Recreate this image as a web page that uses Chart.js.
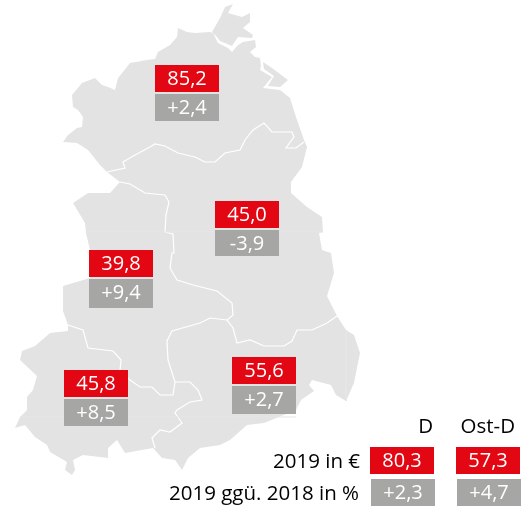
<!DOCTYPE html>
<html>
<head>
<meta charset="utf-8">
<script src="https://cdn.jsdelivr.net/npm/chart.js@4/dist/chart.umd.min.js"></script>
<style>
  html, body { margin: 0; padding: 0; background: #fff; }
  canvas { display: block; }
</style>
</head>
<body>
<canvas id="mapChart" width="528" height="506"></canvas>
<script>
// values
const regions = ['Mecklenburg-Vorpommern', 'Brandenburg', 'Sachsen-Anhalt', 'Thüringen', 'Sachsen'];
const values2019 = [85.2, 45.0, 39.8, 45.8, 55.6];
const changes = [2.4, -3.9, 9.4, 8.5, 2.7];
const legendNames = ['D', 'Ost-D'];
const legendValues = [80.3, 57.3];
const legendChanges = [2.3, 4.7];
const rowLabels = ['2019 in €', '2019 ggü. 2018 in %'];

// top left corner of each label pair, in map units
const regionBoxX = [155, 215, 89, 64, 232];
const regionBoxY = [65, 201, 250, 370, 357];
const regionGreyH = [27, 26, 29, 27, 28];
const legendBoxX = [370, 456];

// map geometry, same units as the canvas
const landOutline = [
    [63,142],[68,135],[77,128],[82,127],[83,117],[78,110],[73,107],[72,95],[82,83],[95,78],[102,85],[108,87],[115,90],
    [118,78],[123,72],[130,63],[147,60],[155,59],[158,52],[170,45],[177,37],[178,28],[187,32],[195,33],[210,32],
    [213,33],[218,43],[228,48],[232,52],[238,45],[243,42],[255,40],[256,47],[250,52],[255,57],[260,58],[261,66],[260,70],
    [272,77],[263,88],[280,90],[290,98],[296,117],[304,140],[307,147],[302,167],[291,182],[291,193],[307,207],[322,217],[323,232],
    [319,233],[322,250],[331,253],[334,273],[327,296],[337,316],[346,330],[354,335],[360,353],[354,383],[346,401],
    [336,395],[331,385],[312,380],[309,385],[314,391],[301,400],[296,410],[264,423],[247,425],[230,440],[220,445],
    [200,448],[188,458],[182,470],[175,460],[162,458],[153,448],[125,453],[117,440],[108,448],[108,458],[83,455],[73,460],
    [75,470],[72,475],[65,470],[67,462],[50,452],[47,445],[35,437],[25,425],[15,428],[20,417],[27,410],[27,397],[33,390],
    [37,376],[20,360],[22,351],[35,346],[50,333],[68,331],[68,325],[63,311],[63,286],[80,281],[90,278],[90,250],[86,233],
    [85,223],[73,203],[88,193],[110,193],[120,182],[107,172],[100,165],[88,150],[77,143]
];
const islandRuegen = [[212,32],[220,18],[225,7],[233,4],[228,13],[242,17],[250,13],[250,22],[243,28],[253,35],[252,38],
    [238,37],[232,46],[220,41],[217,37]];
const islandUsedom = [[263,62],[272,68],[288,80],[280,87],[268,86],[274,76],[264,69]];
const landPolygons = [landOutline, islandRuegen, islandUsedom];

const borderNorth = [[107,172],[125,168],[123,162],[135,155],[150,147],[155,144],[165,146],[178,153],[195,157],
    [205,162],[215,162],[225,153],[240,150],[245,140],[253,130],[264,123],[272,132],[281,132],[292,132],[294,137],
    [286,148],[296,148],[304,142]];
const borderBrandenburg = [[120,182],[130,184],[140,190],[145,193],[165,195],[169,202],[166,215],[165,232],[173,234],
    [174,253],[172,253],[170,268],[177,280],[193,285],[217,291],[232,303],[233,315],[227,320],[233,328],[237,343],
    [250,340],[264,346],[284,346],[292,341],[297,330],[312,330],[327,323],[337,316]];
const borderAnhalt = [[227,320],[210,318],[200,323],[172,331],[167,341],[168,360],[175,382],[173,395],[160,395],
    [152,387],[140,387],[130,380],[120,370],[121,360],[113,351],[88,348],[83,330],[68,325]];
const borderThuringia = [[175,382],[190,382],[198,390],[202,400],[190,402],[177,410],[175,413],[182,423],[170,432],
    [160,430],[152,438],[155,448]];
const coastPoel = [[108,84],[113,78],[122,70]];
const borderLines = [borderNorth, borderBrandenburg, borderAnhalt, borderThuringia, coastPoel];

// faint seams that run across the map
const seamLines = [[[86,232],[323,232]], [[20,417],[296,417]], [[346,330],[346,401]]];

const LAND = '#e3e3e3';
const RED = '#e30613';
const GREY = '#a6a6a5';
const BOX_W = 64;
const BOX_H = 27;

const fmtValue = v => v.toFixed(1).replace('.', ',');
const fmtChange = v => (v > 0 ? '+' : '') + fmtValue(v);

const toPoints = line => line.map(([x, y]) => ({ x, y }));

const mapPlugin = {
    id: 'mapPlugin',
    beforeDatasetsDraw(chart) {
        const { ctx, scales: { x, y } } = chart;
        ctx.save();
        ctx.fillStyle = LAND;
        landPolygons.forEach(poly => {
            ctx.beginPath();
            poly.forEach(([px, py], i) => {
                if (i === 0) ctx.moveTo(x.getPixelForValue(px), y.getPixelForValue(py));
                else ctx.lineTo(x.getPixelForValue(px), y.getPixelForValue(py));
            });
            ctx.closePath();
            ctx.fill();
        });
        ctx.restore();
    },
    afterDatasetsDraw(chart) {
        const { ctx, scales: { x, y } } = chart;

        const box = (px, py, h, colour, text) => {
            const left = x.getPixelForValue(px);
            const top = y.getPixelForValue(py);
            ctx.fillStyle = colour;
            ctx.fillRect(left, top, BOX_W, h);
            ctx.fillStyle = '#fff';
            ctx.font = '20px "Open Sans"';
            ctx.textAlign = 'center';
            ctx.textBaseline = 'alphabetic';
            ctx.fillText(text, left + BOX_W / 2, top + 20);
        };

        const label = (text, right, baseline) => {
            ctx.fillStyle = '#000';
            ctx.font = '20.5px "Open Sans"';
            ctx.textAlign = 'right';
            ctx.textBaseline = 'alphabetic';
            ctx.fillText(text, x.getPixelForValue(right), y.getPixelForValue(baseline));
        };

        ctx.save();
        regions.forEach((name, i) => {
            box(regionBoxX[i], regionBoxY[i], BOX_H, RED, fmtValue(values2019[i]));
            box(regionBoxX[i], regionBoxY[i] + 29, regionGreyH[i], GREY, fmtChange(changes[i]));
        });

        legendNames.forEach((name, i) => {
            box(legendBoxX[i], 447, BOX_H, RED, fmtValue(legendValues[i]));
            box(legendBoxX[i] + 1, 479, BOX_H, GREY, fmtChange(legendChanges[i]));
        });
        label(legendNames[0], 433, 433);
        label(legendNames[1], 515, 433);
        label(rowLabels[0], 360, 468);
        label(rowLabels[1], 359, 500);
        ctx.restore();
    }
};

const mapChart = () => {
    const ctx = document.getElementById('mapChart').getContext('2d');

    const lineDataset = (line, colour, width) => ({
        data: toPoints(line),
        showLine: true,
        borderColor: colour,
        borderWidth: width,
        pointRadius: 0,
        tension: 0,
        fill: false
    });

    new Chart(ctx, {
        type: 'scatter',
        data: {
            datasets: [
                ...seamLines.map(line => lineDataset(line, '#e6e6e6', 1)),
                ...borderLines.map(line => lineDataset(line, '#fff', 1.2))
            ]
        },
        options: {
            responsive: false,
            animation: false,
            layout: { padding: 0 },
            scales: {
                x: { type: 'linear', min: 0, max: 528, display: false },
                y: { type: 'linear', min: 0, max: 506, reverse: true, display: false }
            },
            plugins: {
                legend: { display: false },
                tooltip: { enabled: false }
            }
        },
        plugins: [mapPlugin]
    });
}

document.addEventListener('DOMContentLoaded', mapChart);
</script>
</body>
</html>
